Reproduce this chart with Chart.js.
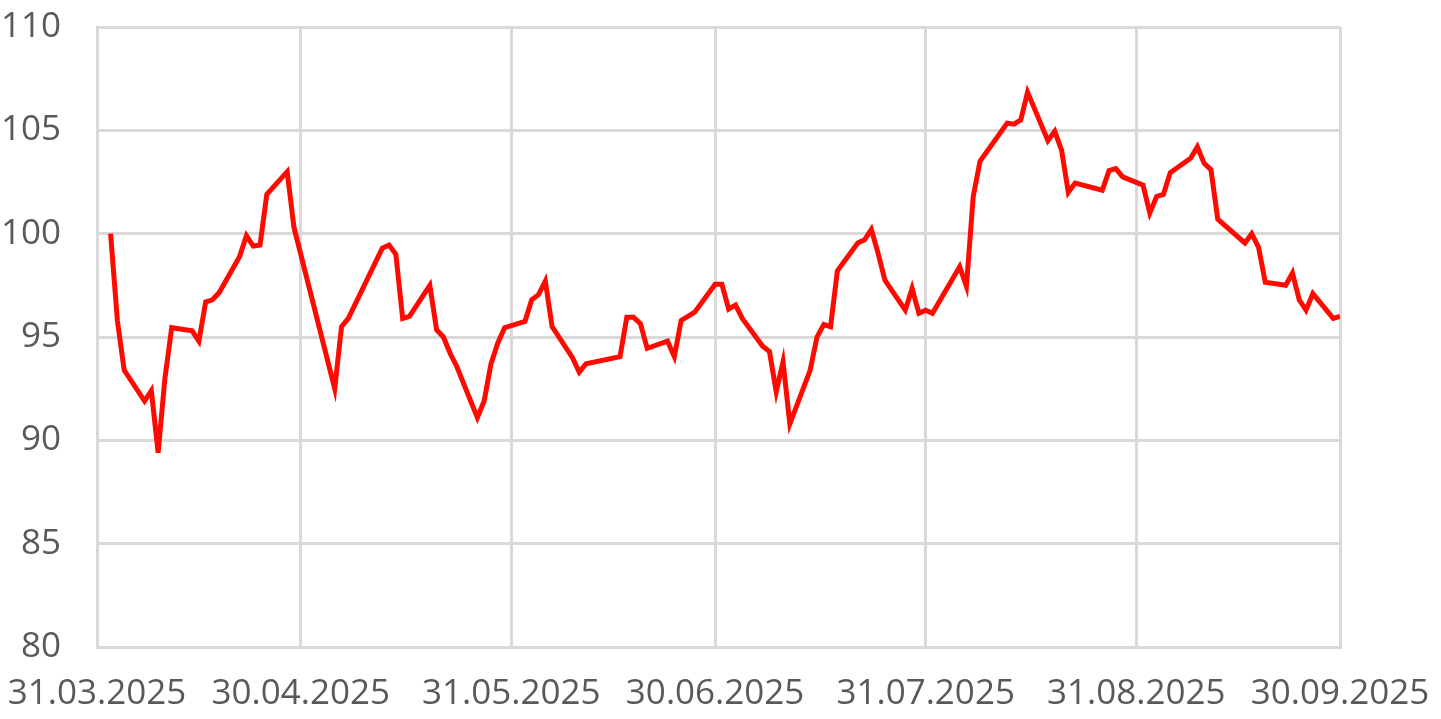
<!DOCTYPE html>
<html>
<head>
<meta charset="utf-8">
<script src="https://cdn.jsdelivr.net/npm/chart.js@4"></script>
<style>
  html, body { margin: 0; padding: 0; background: #fff; }
  #wrap { width: 1441px; height: 719px; }
</style>
</head>
<body>
<div id="wrap"><canvas id="indexChart"></canvas></div>
<script>
// trading days (dd.mm, 2025) and index values
const dates = [
  '02.04','03.04','04.04','07.04','08.04','09.04','10.04','11.04','14.04','15.04',
  '16.04','17.04','18.04','21.04','22.04','23.04','24.04','25.04','28.04','29.04',
  '05.05','06.05','07.05','12.05','13.05','14.05','15.05','16.05','19.05','20.05',
  '21.05','22.05','23.05','26.05','27.05','28.05','29.05','30.05','02.06','03.06',
  '04.06','05.06','06.06','09.06','10.06','11.06','16.06','17.06','18.06','19.06',
  '20.06','23.06','24.06','25.06','26.06','27.06','30.06','01.07','02.07','03.07',
  '04.07','07.07','08.07','09.07','10.07','11.07','14.07','15.07','16.07','17.07',
  '18.07','21.07','22.07','23.07','24.07','25.07','28.07','29.07','30.07','31.07',
  '01.08','05.08','06.08','07.08','08.08','12.08','13.08','14.08','15.08','18.08',
  '19.08','20.08','21.08','22.08','26.08','27.08','28.08','29.08','01.09','02.09',
  '03.09','04.09','05.09','08.09','09.09','10.09','11.09','12.09','16.09','17.09',
  '18.09','19.09','22.09','23.09','24.09','25.09','26.09','29.09','30.09'
];
const values = [
  100.0, 95.8, 93.4, 91.9, 92.4, 89.4, 93.0, 95.45, 95.3, 94.8,
  96.7, 96.8, 97.15, 98.9, 99.9, 99.4, 99.45, 101.9, 103.0, 100.3,
  92.5, 95.5, 95.9, 99.3, 99.45, 99.0, 95.9, 96.0, 97.5, 95.35,
  95.0, 94.2, 93.55, 91.1, 91.9, 93.7, 94.7, 95.45, 95.75, 96.8,
  97.05, 97.7, 95.5, 94.0, 93.3, 93.7, 94.05, 95.95, 95.95, 95.65,
  94.45, 94.8, 94.05, 95.8, 96.0, 96.2, 97.55, 97.55, 96.35, 96.55,
  95.9, 94.55, 94.3, 92.35, 93.8, 90.8, 93.4, 95.0, 95.6, 95.5,
  98.2, 99.55, 99.7, 100.2, 99.05, 97.75, 96.3, 97.35, 96.15, 96.3,
  96.15, 98.4, 97.45, 101.8, 103.5, 105.35, 105.3, 105.5, 106.85, 104.5,
  104.95, 104.05, 102.0, 102.45, 102.1, 103.05, 103.15, 102.75, 102.35, 101.0,
  101.8, 101.9, 102.95, 103.65, 104.2, 103.4, 103.1, 100.7, 99.55, 100.0,
  99.35, 97.65, 97.5, 98.1, 96.8, 96.3, 97.1, 95.9, 96.0
];
const tickLabels = ['31.03.2025','30.04.2025','31.05.2025','30.06.2025','31.07.2025','31.08.2025','30.09.2025'];
const yTicks = [80, 85, 90, 95, 100, 105, 110];

const start = Date.UTC(2025, 2, 31);
function dayOf(s) {
  const p = s.split('.');
  return Math.round((Date.UTC(2025, +p[1] - 1, +p[0]) - start) / 86400000);
}
const tickDays = tickLabels.map(dayOf);
const points = dates.map((d, i) => ({ x: dayOf(d), y: values[i] }));

const gridColor = '#d9d9d9';
const textColor = '#595959';
const font = { family: 'Open Sans', size: 35 };

new Chart(document.getElementById('indexChart'), {
  type: 'line',
  data: {
    datasets: [{
      data: points,
      borderColor: '#ff0a00',
      borderWidth: 5,
      pointRadius: 0,
      tension: 0,
      fill: false
    }]
  },
  options: {
    responsive: true,
    maintainAspectRatio: false,
    animation: false,
    layout: { padding: { left: 0, right: 101, top: 27, bottom: 0 } },
    plugins: { legend: { display: false }, tooltip: { enabled: false } },
    scales: {
      x: {
        type: 'linear',
        min: tickDays[0],
        max: tickDays[tickDays.length - 1],
        afterBuildTicks: s => { s.ticks = tickDays.map(v => ({ value: v })); },
        afterFit: s => { s.height = 72; s.paddingLeft = 0; s.paddingRight = 0; },
        ticks: {
          autoSkip: false,
          maxRotation: 0,
          color: textColor,
          font: font,
          padding: 26,
          callback: v => tickLabels[tickDays.indexOf(v)]
        },
        grid: { color: gridColor, lineWidth: 3, drawTicks: false },
        border: { color: gridColor, width: 3 }
      },
      y: {
        min: 80,
        max: 110,
        afterBuildTicks: s => { s.ticks = yTicks.map(v => ({ value: v })); },
        afterFit: s => { s.width = 97; s.paddingTop = 0; s.paddingBottom = 0; },
        ticks: {
          color: textColor,
          font: font,
          padding: 36
        },
        grid: { color: gridColor, lineWidth: 3, drawTicks: false },
        border: { color: gridColor, width: 3 }
      }
    }
  }
});
</script>
</body>
</html>
